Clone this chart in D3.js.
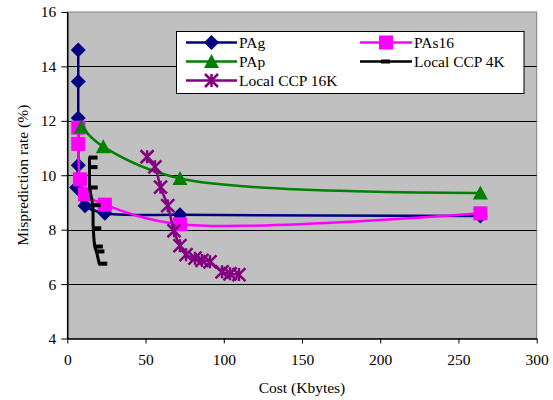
<!DOCTYPE html>
<html>
<head>
<meta charset="utf-8">
<script src="https://cdn.jsdelivr.net/npm/d3@7"></script>
<style>
  body { margin: 0; background: #fff; }
  svg { display: block; }
</style>
</head>
<body>
<svg id="chart" width="553" height="400"></svg>
<script>
// Misprediction rate (%) versus predictor cost (Kbytes)
const pagCost = [7, 7, 7, 7, 6, 11.3, 24, 72, 264];
const pagRate = [14.6, 13.45, 12.1, 10.37, 9.55, 8.88, 8.6, 8.55, 8.5];

const pas16Cost = [7, 7, 8.1, 11.3, 24, 72, 264];
const pas16Rate = [11.75, 11.15, 9.85, 9.3, 8.92, 8.2, 8.6];

const papCost = [9, 23, 72, 264];
const papRate = [11.77, 11.05, 9.88, 9.35];

const ccp4kCost = [14.2, 14.2, 14.3, 16.2, 16.6, 17.6, 18.6, 20.4];
const ccp4kRate = [10.65, 10.3, 9.55, 8.9, 8.05, 7.38, 7.2, 6.75];

const ccp16kCost = [51, 56, 59.6, 64.2, 68.2, 72, 75.9, 81.6, 86.1, 91.2, 98.9, 104, 109.7];
const ccp16kRate = [10.68, 10.31, 9.56, 8.88, 7.96, 7.41, 7.08, 6.95, 6.87, 6.82, 6.45, 6.38, 6.35];

const xTicks = [0, 50, 100, 150, 200, 250, 300];
const yTicks = [4, 6, 8, 10, 12, 14, 16];

const series = [
  { name: "PAg", color: "#000080", marker: "diamond", cost: pagCost, rate: pagRate },
  { name: "PAs16", color: "#FF00FF", marker: "square", cost: pas16Cost, rate: pas16Rate },
  { name: "PAp", color: "#008000", marker: "triangle", cost: papCost, rate: papRate },
  { name: "Local CCP 4K", color: "#000000", marker: "dash", cost: ccp4kCost, rate: ccp4kRate },
  { name: "Local CCP 16K", color: "#800080", marker: "star", cost: ccp16kCost, rate: ccp16kRate }
];

const FONT = "Liberation Serif";
const FS = "15.5px";

const svg = d3.select("#chart");
const plot = { left: 67.3, right: 536.7, top: 12, bottom: 338.5 };

const x = d3.scaleLinear().domain([0, 300]).range([plot.left, plot.right]);
const y = d3.scaleLinear().domain([4, 16]).range([plot.bottom, plot.top]);

// plot background
svg.append("rect")
  .attr("x", plot.left).attr("y", plot.top)
  .attr("width", plot.right - plot.left).attr("height", plot.bottom - plot.top)
  .attr("fill", "#C0C0C0").attr("stroke", "#808080").attr("stroke-width", 1);

// horizontal gridlines
svg.append("g").selectAll("line")
  .data(yTicks.filter(d => d > 4 && d < 16))
  .join("line")
  .attr("x1", plot.left).attr("x2", plot.right)
  .attr("y1", d => Math.round(y(d)) + 0.5).attr("y2", d => Math.round(y(d)) + 0.5)
  .attr("stroke", "#000").attr("stroke-width", 1);

// axes
const yAxis = d3.axisLeft(y).tickValues(yTicks).tickSize(6).tickPadding(5).tickSizeOuter(0);
const xAxis = d3.axisBottom(x).tickValues(xTicks).tickSize(5).tickPadding(10).tickSizeOuter(0);

const gy = svg.append("g").attr("transform", `translate(${plot.left},0)`).call(yAxis);
const gx = svg.append("g").attr("transform", `translate(0,${plot.bottom})`).call(xAxis);
[gx, gy].forEach(g => {
  g.attr("font-family", null).attr("font-size", null);
  g.select(".domain").attr("stroke", "#000").attr("stroke-width", 1.5);
  g.selectAll(".tick line").attr("stroke", "#000");
  g.selectAll(".tick text")
    .style("font-family", FONT).style("font-size", FS).attr("fill", "#000");
});

// axis titles
svg.append("text")
  .attr("x", (plot.left + plot.right) / 2).attr("y", 393)
  .attr("text-anchor", "middle")
  .style("font-family", FONT).style("font-size", FS)
  .text("Cost (Kbytes)");
svg.append("text")
  .attr("transform", `translate(28,${(plot.top + plot.bottom) / 2}) rotate(-90)`)
  .attr("text-anchor", "middle")
  .style("font-family", FONT).style("font-size", FS)
  .text("Misprediction rate (%)");

// marker shapes
function drawMarker(g, type, color) {
  if (type === "diamond") {
    g.append("path").attr("d", "M0,-7.5L7.5,0L0,7.5L-7.5,0Z").attr("fill", color);
  } else if (type === "square") {
    g.append("rect").attr("x", -7).attr("y", -7).attr("width", 14).attr("height", 14).attr("fill", color);
  } else if (type === "triangle") {
    g.append("path").attr("d", "M0,-7.5L7.5,6.5L-7.5,6.5Z").attr("fill", color);
  } else if (type === "dash") {
    g.append("rect").attr("x", -1).attr("y", -2).attr("width", 9).attr("height", 4).attr("fill", color);
  } else if (type === "star") {
    const s = 6.5;
    g.append("path")
      .attr("d", `M${-s},${-s}L${s},${s}M${-s},${s}L${s},${-s}M0,${-s}L0,${s}`)
      .attr("stroke", color).attr("stroke-width", 2.5).attr("fill", "none");
  }
}

const line = d3.line()
  .x(d => x(d[0])).y(d => y(d[1]))
  .curve(d3.curveCatmullRom.alpha(0.5));

series.forEach(s => {
  const pts = s.cost.map((c, i) => [c, s.rate[i]]);
  const g = svg.append("g");
  g.append("path")
    .attr("d", line(pts))
    .attr("fill", "none").attr("stroke", s.color)
    .attr("stroke-width", s.marker === "dash" ? 3 : 2.5)
    .attr("stroke-linejoin", "round");
  g.selectAll("g.pt").data(pts).join("g")
    .attr("class", "pt")
    .attr("transform", d => `translate(${x(d[0])},${y(d[1])})`)
    .each(function () { drawMarker(d3.select(this), s.marker, s.color); });
});

// legend
const legend = svg.append("g");
legend.append("rect")
  .attr("x", 176.5).attr("y", 31.5).attr("width", 347.5).attr("height", 62)
  .attr("fill", "#fff").attr("stroke", "#000").attr("stroke-width", 1);

const legendPos = [
  { lx: 186, rx: 237, ty: 42.5 },
  { lx: 360, rx: 412, ty: 42.5 },
  { lx: 186, rx: 237, ty: 61.5 },
  { lx: 360, rx: 412, ty: 61.5 },
  { lx: 186, rx: 237, ty: 80.5 }
];

series.forEach((s, i) => {
  const p = legendPos[i];
  const g = legend.append("g");
  g.append("line")
    .attr("x1", p.lx).attr("x2", p.rx).attr("y1", p.ty).attr("y2", p.ty)
    .attr("stroke", s.color).attr("stroke-width", 2.5);
  const mx = (p.lx + p.rx) / 2;
  const m = g.append("g").attr("transform", `translate(${s.marker === "dash" ? mx - 4 : mx},${p.ty})`);
  drawMarker(m, s.marker, s.color);
  g.append("text")
    .attr("x", p.rx + 2).attr("y", p.ty + 5.5)
    .style("font-family", FONT).style("font-size", FS)
    .text(s.name);
});
</script>
</body>
</html>
